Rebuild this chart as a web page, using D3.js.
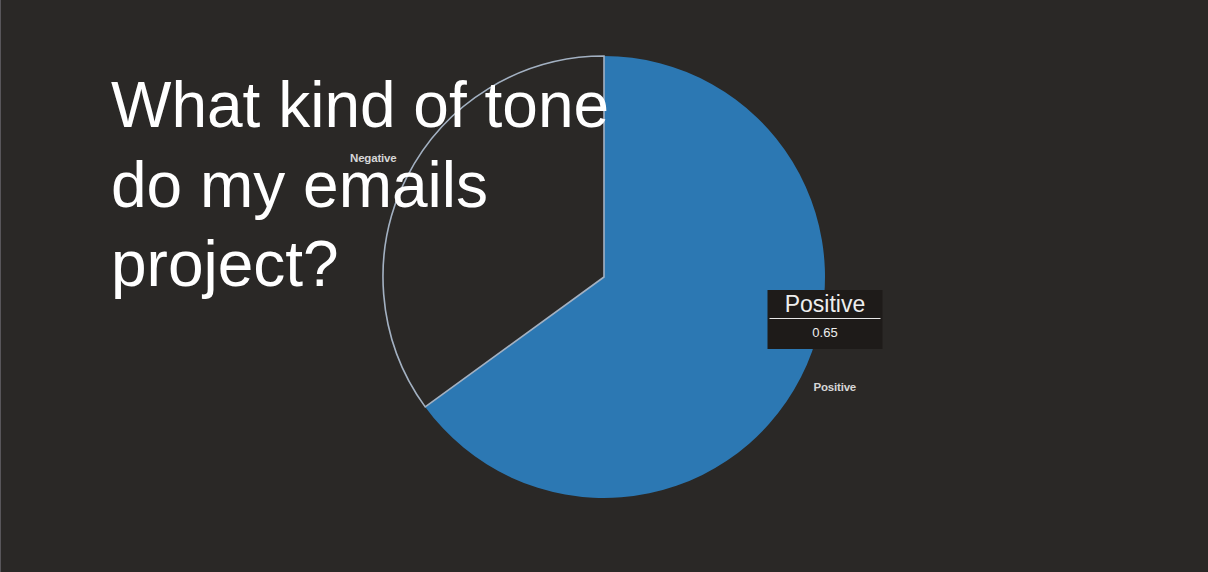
<!DOCTYPE html>
<html>
<head>
<meta charset="utf-8">
<script src="https://cdn.jsdelivr.net/npm/d3@7"></script>
<style>
  html, body { margin: 0; padding: 0; background: #2a2826; overflow: hidden; }
  svg { display: block; font-family: 'Liberation Sans', Arial, Helvetica, sans-serif; }
</style>
</head>
<body>
<svg id="chart"></svg>
<script>
const labels = ['Positive', 'Negative']
const values = [0.65, 0.35]
const titleLines = ['What kind of tone', 'do my emails', 'project?']
const tooltipIndex = 0

const width = 1208
const height = 572
const cx = 604
const cy = 277
const radius = 221

const svg = d3.select('#chart')
  .attr('width', width)
  .attr('height', height)

svg.append('rect')
  .attr('width', width)
  .attr('height', height)
  .attr('fill', '#2a2826')

svg.append('line')
  .attr('x1', 0.5).attr('x2', 0.5)
  .attr('y1', 0).attr('y2', height)
  .attr('stroke', '#58565a')
  .attr('stroke-width', 1)

const data = labels.map((l, i) => ({ label: l, value: values[i] }))

const pie = d3.pie()
  .value(d => d.value)
  .sort(null)

const arc = d3.arc()
  .innerRadius(0)
  .outerRadius(radius)

const labelArc = d3.arc()
  .innerRadius(radius + 38)
  .outerRadius(radius + 38)

const color = d3.scaleOrdinal()
  .domain(labels)
  .range(['#2c78b3', '#2a2826'])

const g = svg.append('g')
  .attr('transform', `translate(${cx},${cy})`)

const arcs = pie(data)

g.selectAll('path')
  .data(arcs)
  .enter()
  .append('path')
  .attr('d', arc)
  .attr('fill', d => color(d.data.label))
  .attr('stroke', d => d.data.label === 'Negative' ? '#a3b1c2' : 'none')
  .attr('stroke-width', 1.6)

g.selectAll('text.slice-label')
  .data(arcs)
  .enter()
  .append('text')
  .attr('class', 'slice-label')
  .attr('transform', d => `translate(${labelArc.centroid(d)})`)
  .attr('dy', d => d.data.label === 'Positive' ? '-4' : '3')
  .attr('text-anchor', 'middle')
  .attr('font-size', 11.5)
  .attr('font-weight', 'bold')
  .attr('fill', '#d6d6d6')
  .attr('letter-spacing', -0.2)
  .text(d => d.data.label)

// title over the chart
const title = svg.append('text')
  .attr('x', 111)
  .attr('y', 127)
  .attr('fill', '#ffffff')
  .attr('font-size', 64)

title.selectAll('tspan')
  .data(titleLines)
  .enter()
  .append('tspan')
  .attr('x', 111)
  .attr('dy', (d, i) => i === 0 ? 0 : 79.5)
  .text(d => d)

// tooltip box for the hovered slice
const tip = arcs[tooltipIndex]
const tx = cx + radius
const ty = cy + 13
const tw = 115
const th = 59

const tg = svg.append('g')
  .attr('transform', `translate(${tx - tw / 2},${ty})`)

tg.append('rect')
  .attr('width', tw)
  .attr('height', th)
  .attr('fill', '#1e1b19')

tg.append('text')
  .attr('x', tw / 2)
  .attr('y', 22)
  .attr('text-anchor', 'middle')
  .attr('font-size', 23)
  .attr('fill', '#eeeeee')
  .text(tip.data.label)

tg.append('line')
  .attr('x1', 2).attr('x2', tw - 2)
  .attr('y1', 28.5).attr('y2', 28.5)
  .attr('stroke', '#e8e8e8')
  .attr('stroke-width', 1)

tg.append('text')
  .attr('x', tw / 2)
  .attr('y', 47)
  .attr('text-anchor', 'middle')
  .attr('font-size', 13)
  .attr('fill', '#eeeeee')
  .text(tip.data.value)
</script>
</body>
</html>
